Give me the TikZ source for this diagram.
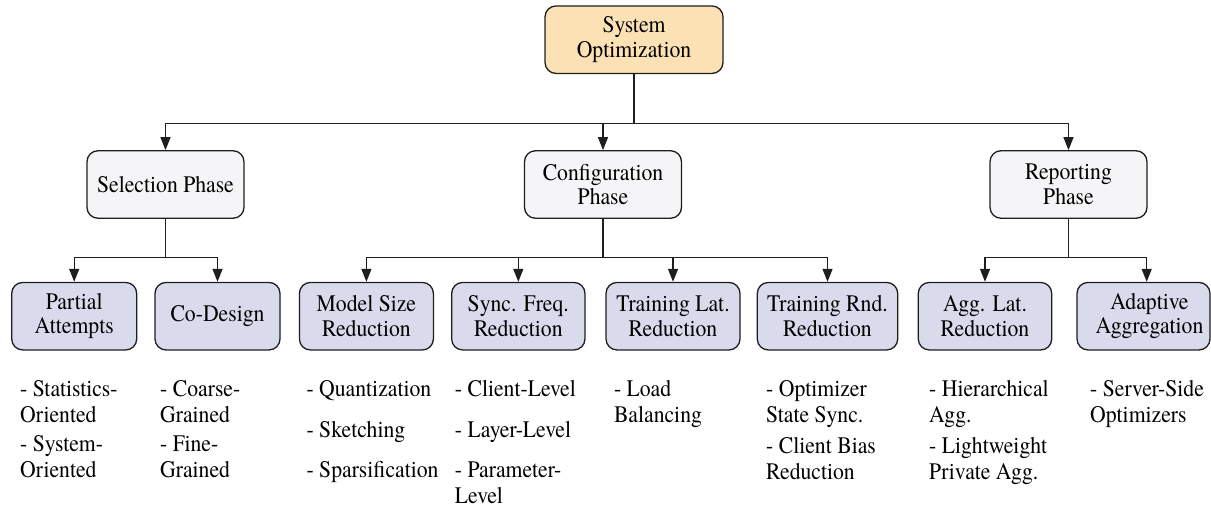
\documentclass[tikz,border=0pt]{standalone}
\usepackage{fontspec}
\setmainfont{texgyretermes}[Extension=.otf, UprightFont=*-regular, BoldFont=*-bold, ItalicFont=*-italic, BoldItalicFont=*-bolditalic, FakeStretch=0.915]
\usetikzlibrary{arrows.meta}
\definecolor{topfill}{RGB}{252,225,180}
\definecolor{phasefill}{RGB}{245,245,247}
\definecolor{leaffill}{RGB}{217,218,236}
\definecolor{linec}{RGB}{30,30,30}
\begin{document}
\begin{tikzpicture}[x=1pt,y=-1pt,
  font=\fontsize{23.7}{24.5}\selectfont,
  box/.style={draw=linec, line width=1.3pt, rounded corners=11pt, align=center, inner sep=0pt, minimum height=67.5pt},
  topbox/.style={box, fill=topfill, minimum width=178pt},
  phasebox/.style={box, fill=phasefill, minimum width=157pt},
  leafbox/.style={box, fill=leaffill},
  conn/.style={draw=linec, line width=1.3pt},
  arr/.style={conn, -{Triangle[length=13pt, width=10pt]}},
  item/.style={anchor=base west, inner sep=0pt}]
\useasboundingbox (0,0) rectangle (1211,506);

% main nodes
\node[topbox] (top) at (634,39.7) {System\\Optimization};
\node[phasebox] (sel) at (165.5,184.5) {Selection Phase};
\node[phasebox] (conf) at (603,184.5) {Configuration\\Phase};
\node[phasebox] (rep) at (1068.5,184.5) {Reporting\\Phase};

\node[leafbox, minimum width=125pt] (pa) at (74.2,316.2) {Partial\\Attempts};
\node[leafbox, minimum width=125pt] (cd) at (217.5,316.2) {Co-Design};
\node[leafbox, minimum width=134pt] (ms) at (366.4,316.2) {Model Size\\Reduction};
\node[leafbox, minimum width=133.3pt] (sf) at (518.3,316.2) {Sync. Freq.\\Reduction};
\node[leafbox, minimum width=134pt] (tl) at (673,316.2) {Training Lat.\\Reduction};
\node[leafbox, minimum width=140.4pt] (tr) at (827.5,316.2) {Training Rnd.\\Reduction};
\node[leafbox, minimum width=133.4pt] (al) at (985,316.2) {Agg. Lat.\\Reduction};
\node[leafbox, minimum width=133pt] (aa) at (1143.5,316.2) {\hspace*{12pt}Adaptive\\\hspace*{12pt}Aggregation};

% connectors
\coordinate (j0) at (634,123.7);
\draw[conn] (top) -- (j0);
\draw[arr] (j0) -| (sel);
\draw[arr] (j0) -| (conf);
\draw[arr] (j0) -| (rep);

\coordinate (j1) at (165.5,257.3);
\draw[conn] (sel) -- (j1);
\draw[arr] (j1) -| (pa);
\draw[arr] (j1) -| (cd);

\coordinate (j2) at (603,257.3);
\draw[conn] (conf) -- (j2);
\draw[arr] (j2) -| (ms);
\draw[arr] (j2) -| (sf);
\draw[arr] (j2) -| (tl);
\draw[arr] (j2) -| (tr);

\coordinate (j3) at (1068.5,257.3);
\draw[conn] (rep) -- (j3);
\draw[arr] (j3) -| (al);
\draw[arr] (j3) -| ([xshift=3.2pt]aa.north);

% lists
\node[item] (c1a) at (20,396) {- Statistics-};
\node[item] (c1b) at (20,422) {Oriented};
\node[item] (c1c) at (20,451) {- System-};
\node[item] (c1d) at (20,477) {Oriented};

\node[item] (c2a) at (160,396) {- Coarse-};
\node[item] (c2b) at (160,422) {Grained};
\node[item] (c2c) at (160,451) {- Fine-};
\node[item] (c2d) at (160,477) {Grained};

\node[item] (c3a) at (306.4,396) {- Quantization};
\node[item] (c3b) at (306.4,437) {- Sketching};
\node[item] (c3c) at (306.4,477) {- Sparsification};

\node[item] (c4a) at (454.7,396) {- Client-Level};
\node[item] (c4b) at (454.7,437) {- Layer-Level};
\node[item] (c4c) at (454.7,477) {- Parameter-};
\node[item] (c4d) at (454.7,503) {Level};

\node[item] (c5a) at (613.8,396) {- Load};
\node[item] (c5b) at (613.8,422) {Balancing};

\node[item] (c6a) at (766,396) {- Optimizer};
\node[item] (c6b) at (766,422) {State Sync.};
\node[item] (c6c) at (766,453) {- Client Bias};
\node[item] (c6d) at (766,479) {Reduction};

\node[item] (c7a) at (929,396) {- Hierarchical};
\node[item] (c7b) at (929,422) {Agg.};
\node[item] (c7c) at (929,453) {- Lightweight};
\node[item] (c7d) at (929,479) {Private Agg.};

\node[item] (c8a) at (1090,396) {- Server-Side};
\node[item] (c8b) at (1090,422) {Optimizers};
\end{tikzpicture}
\end{document}
